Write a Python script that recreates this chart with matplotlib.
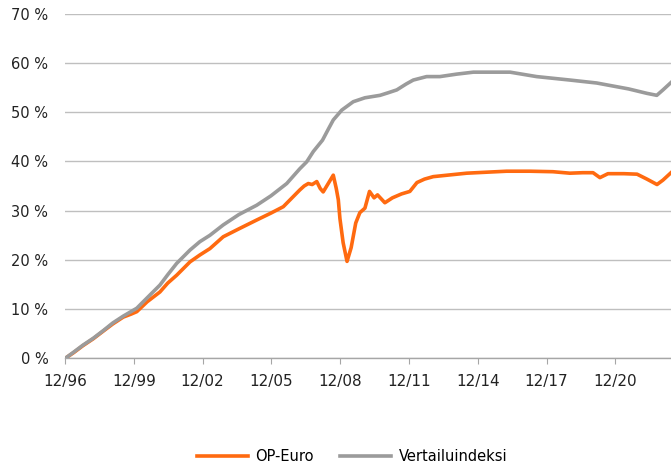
import numpy as np
import matplotlib
matplotlib.use('Agg')
import matplotlib.pyplot as plt

# dates as decimal years (12/96 = 1996.92)
op_years = [1996.92, 1997.3, 1997.7, 1998.15, 1998.6, 1999.0, 1999.46, 1999.8,
            2000.05, 2000.5, 2001.06, 2001.4, 2001.79, 2002.37, 2002.8, 2003.24,
            2003.82, 2004.5, 2005.28, 2005.9, 2006.44, 2006.8, 2007.16, 2007.35,
            2007.53, 2007.7, 2007.9, 2008.05, 2008.18, 2008.4, 2008.62, 2008.75,
            2008.84, 2008.91, 2009.05, 2009.22, 2009.4, 2009.6, 2009.78, 2010.0,
            2010.2, 2010.4, 2010.55, 2010.87, 2011.2, 2011.6, 2011.96, 2012.27,
            2012.6, 2012.98, 2013.6, 2014.44, 2015.3, 2016.18, 2017.2, 2018.2,
            2018.94, 2019.5, 2019.95, 2020.25, 2020.6, 2021.3, 2021.87, 2022.3,
            2022.74, 2023.0, 2023.35]
op_euro = [0.0, 1.2, 2.6, 4.0, 5.6, 7.0, 8.4, 9.0,
           9.5, 11.5, 13.5, 15.3, 16.9, 19.6, 21.0, 22.3,
           24.7, 26.3, 28.1, 29.5, 30.8, 32.5, 34.2, 35.0,
           35.5, 35.3, 35.9, 34.5, 33.8, 35.5, 37.2, 34.5,
           32.2, 28.4, 23.5, 19.7, 22.5, 27.5, 29.6, 30.5,
           33.9, 32.6, 33.2, 31.6, 32.6, 33.4, 33.9, 35.7,
           36.4, 36.9, 37.2, 37.6, 37.8, 38.0, 38.0, 37.9,
           37.6, 37.7, 37.7, 36.7, 37.5, 37.5, 37.4, 36.4,
           35.3, 36.2, 37.7]

idx_years = [1996.92, 1997.3, 1997.7, 1998.15, 1998.6, 1999.0, 1999.46, 2000.05,
             2000.5, 2001.06, 2001.4, 2001.79, 2002.37, 2002.8, 2003.24, 2003.82,
             2004.5, 2005.28, 2005.9, 2006.59, 2007.16, 2007.46, 2007.75, 2008.15,
             2008.4, 2008.62, 2008.99, 2009.49, 2010.0, 2010.66, 2011.0, 2011.39,
             2011.8, 2012.11, 2012.69, 2013.27, 2014.0, 2014.73, 2016.33, 2017.49,
             2018.94, 2020.11, 2021.5, 2022.3, 2022.73, 2023.0, 2023.35]
vertailu = [0.0, 1.3, 2.7, 4.1, 5.7, 7.2, 8.6, 10.2,
            12.3, 14.9, 17.0, 19.3, 22.0, 23.7, 25.0, 27.1,
            29.2, 31.1, 33.0, 35.5, 38.5, 39.9, 42.0, 44.3,
            46.5, 48.4, 50.4, 52.1, 52.9, 53.4, 53.9, 54.5,
            55.7, 56.5, 57.2, 57.2, 57.7, 58.1, 58.1, 57.2,
            56.5, 55.9, 54.7, 53.8, 53.4, 54.5, 56.0]

tick_years = [1996.92, 1999.92, 2002.92, 2005.92, 2008.92, 2011.92, 2014.92, 2017.92, 2020.92]
tick_labels = ['12/96', '12/99', '12/02', '12/05', '12/08', '12/11', '12/14', '12/17', '12/20']
y_ticks = [0, 10, 20, 30, 40, 50, 60, 70]

plt.rcParams['font.family'] = ['DejaVu Sans']
fig = plt.figure(figsize=(6.71, 4.66), dpi=100)
ax = fig.add_axes([0.0969, 0.2307, 0.9031, 0.7403])

ax.plot(op_years, op_euro, color='#FF6A10', lw=2.6, label='OP-Euro', solid_joinstyle='round')
ax.plot(idx_years, vertailu, color='#9B9B9B', lw=2.6, label='Vertailuindeksi', solid_joinstyle='round')

ax.set_xlim(1996.92, 2023.35)
ax.set_ylim(0, 70)
ax.set_yticks(y_ticks)
ax.set_yticklabels(['%d %%' % v for v in y_ticks], fontsize=10.5, color='#222222')
ax.set_xticks(tick_years)
ax.set_xticklabels(tick_labels, fontsize=11, color='#222222')
ax.grid(axis='y', color='#BFBFBF', lw=1)
ax.set_axisbelow(True)
for s in ['top', 'right', 'left']:
    ax.spines[s].set_visible(False)
ax.spines['bottom'].set_color('#A6A6A6')
ax.spines['bottom'].set_linewidth(1)
ax.tick_params(axis='y', length=0, pad=12)
ax.tick_params(axis='x', length=4, color='#A6A6A6', pad=7)

fig.legend(loc='center', bbox_to_anchor=(0.525, 0.02), ncol=2, frameon=False,
           fontsize=10.5, handlelength=3.5, handletextpad=0.5, columnspacing=1.8)

fig.savefig('out.png', dpi=100)
